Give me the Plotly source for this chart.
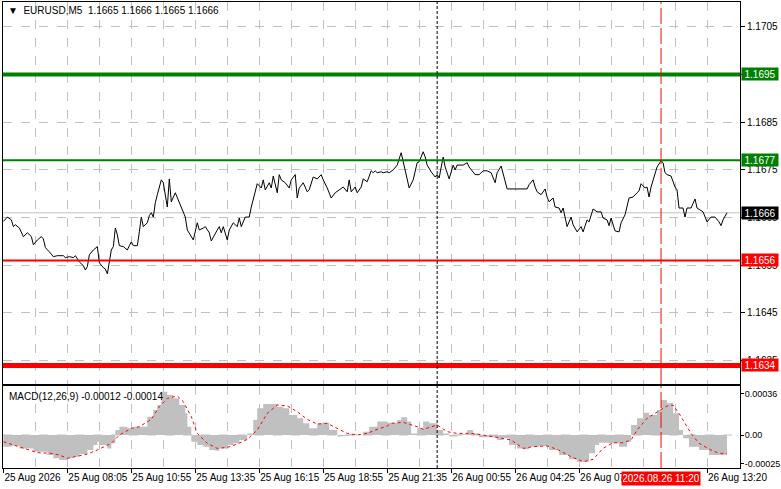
import plotly.graph_objects as go

# EURUSD M5 closes, x = bar number from the left edge of the chart
bars = [
	0, 2, 4, 5, 6, 8, 10, 11, 12, 14,
	15, 17, 19, 20, 21, 23, 25, 27, 30, 31,
	33, 35, 36, 38, 40, 41, 42, 43, 45, 47,
	48, 50, 51, 52, 54, 55, 56, 57, 58, 60,
	62, 63, 64, 65, 67, 68, 69, 70, 72, 73,
	74, 75, 76, 77, 79, 80, 82, 83, 84, 86,
	87, 89, 91, 92, 95, 97, 98, 100, 101, 103,
	104, 107, 108, 109, 110, 112, 113, 115, 117, 118,
	119, 121, 123, 124, 126, 127, 129, 130, 131, 133,
	134, 135, 137, 138, 139, 141, 143, 144, 146, 147,
	148, 150, 152, 153, 155, 157, 159, 160, 162, 164,
	166, 168, 170, 172, 173, 174, 176, 177, 179, 180,
	182, 184, 185, 186, 187, 189, 190, 192, 193, 195,
	197, 199, 200, 202, 203, 205, 207, 208, 210, 211,
	212, 214, 216, 217, 218, 220, 221, 223, 225, 226,
	227, 230, 232, 233, 236, 238, 240, 242, 244, 246,
	247, 249, 251, 252, 257, 262, 263, 265, 266, 267,
	269, 270, 271, 272, 273, 275, 276, 278, 279, 280,
	281, 282, 284, 285, 287, 289, 290, 292, 293, 295,
	297, 299, 300, 302, 303, 304, 306, 308, 309, 311,
	313, 315, 317, 318, 319, 321, 322, 323, 324, 326,
	327, 329, 330, 331, 332, 334, 336, 337, 338, 340,
	341, 342, 344, 346, 347, 350, 352, 354, 356, 358,
	359, 360, 362,
]
close = [
	1.16642, 1.16651, 1.16645, 1.16631, 1.16635, 1.16628, 1.16610, 1.16614, 1.16618, 1.16610,
	1.16593, 1.16603, 1.16610, 1.16605, 1.16587, 1.16578, 1.16568, 1.16570, 1.16570, 1.16566,
	1.16568, 1.16566, 1.16570, 1.16557, 1.16549, 1.16540, 1.16547, 1.16572, 1.16582, 1.16589,
	1.16555, 1.16545, 1.16542, 1.16532, 1.16582, 1.16589, 1.16628, 1.16614, 1.16591, 1.16589,
	1.16582, 1.16591, 1.16599, 1.16591, 1.16591, 1.16620, 1.16651, 1.16631, 1.16639, 1.16654,
	1.16660, 1.16651, 1.16681, 1.16698, 1.16729, 1.16723, 1.16672, 1.16731, 1.16683, 1.16702,
	1.16691, 1.16672, 1.16651, 1.16624, 1.16603, 1.16639, 1.16624, 1.16628, 1.16631, 1.16618,
	1.16601, 1.16624, 1.16631, 1.16618, 1.16631, 1.16603, 1.16624, 1.16639, 1.16631, 1.16649,
	1.16631, 1.16651, 1.16651, 1.16672, 1.16708, 1.16721, 1.16712, 1.16729, 1.16708, 1.16723,
	1.16712, 1.16737, 1.16702, 1.16740, 1.16729, 1.16723, 1.16712, 1.16729, 1.16740, 1.16691,
	1.16712, 1.16723, 1.16704, 1.16708, 1.16735, 1.16731, 1.16740, 1.16729, 1.16712, 1.16691,
	1.16702, 1.16708, 1.16714, 1.16704, 1.16729, 1.16704, 1.16714, 1.16702, 1.16714, 1.16731,
	1.16725, 1.16748, 1.16744, 1.16748, 1.16744, 1.16746, 1.16744, 1.16746, 1.16744, 1.16750,
	1.16760, 1.16786, 1.16767, 1.16735, 1.16712, 1.16729, 1.16765, 1.16767, 1.16788, 1.16777,
	1.16760, 1.16746, 1.16735, 1.16740, 1.16733, 1.16777, 1.16756, 1.16731, 1.16760, 1.16750,
	1.16760, 1.16760, 1.16765, 1.16756, 1.16740, 1.16740, 1.16748, 1.16748, 1.16744, 1.16723,
	1.16744, 1.16758, 1.16729, 1.16710, 1.16710, 1.16710, 1.16719, 1.16729, 1.16714, 1.16704,
	1.16698, 1.16704, 1.16710, 1.16693, 1.16683, 1.16691, 1.16672, 1.16670, 1.16660, 1.16670,
	1.16651, 1.16631, 1.16651, 1.16635, 1.16620, 1.16631, 1.16620, 1.16645, 1.16641, 1.16668,
	1.16662, 1.16662, 1.16649, 1.16645, 1.16633, 1.16649, 1.16622, 1.16620, 1.16639, 1.16656,
	1.16691, 1.16693, 1.16702, 1.16706, 1.16721, 1.16712, 1.16714, 1.16693, 1.16714, 1.16740,
	1.16756, 1.16769, 1.16765, 1.16744, 1.16740, 1.16737, 1.16714, 1.16708, 1.16670, 1.16670,
	1.16651, 1.16670, 1.16670, 1.16689, 1.16670, 1.16662, 1.16641, 1.16651, 1.16651, 1.16641,
	1.16633, 1.16645, 1.16660,
]

# MACD(12,26,9) main line (grey histogram)
macd_bars = [
	0, 4, 8, 15, 22, 25, 28, 32, 35, 38,
	42, 45, 47, 48, 52, 54, 56, 58, 62, 65,
	68, 72, 75, 77, 79, 82, 85, 88, 91, 92,
	94, 97, 100, 103, 106, 108, 112, 115, 118, 122,
	125, 127, 130, 133, 137, 140, 143, 147, 150, 153,
	157, 160, 163, 167, 170, 173, 177, 180, 183, 187,
	192, 194, 197, 199, 202, 204, 207, 210, 213, 217,
	220, 223, 227, 232, 235, 238, 243, 247, 250, 253,
	257, 260, 263, 268, 273, 278, 283, 287, 290, 293,
	296, 298, 303, 308, 312, 314, 317, 320, 323, 327,
	329, 332, 335, 338, 340, 343, 348, 353, 358, 362,
]
macd_main = [
	-0.000101, -0.000093, -0.000116, -0.000145, -0.000174, -0.000202, -0.000217, -0.000202, -0.000188, -0.000165,
	-0.000130, -0.000087, -0.000058, -0.000087, -0.000116, -0.000072, 0.000043, 0.000072, 0.000058, 0.000072,
	0.000072, 0.000159, 0.000217, 0.000260, 0.000376, 0.000347, 0.000318, 0.000260, 0.000188, 0.000072,
	-0.000058, -0.000087, -0.000101, -0.000130, -0.000136, -0.000116, -0.000087, -0.000072, -0.000043, 0.000014,
	0.000130, 0.000231, 0.000269, 0.000269, 0.000246, 0.000231, 0.000173, 0.000145, 0.000101, 0.000058,
	0.000101, 0.000107, 0.000043, -0.000014, -0.000009, 0.000009, 0.000000, 0.000029, 0.000072, 0.000116,
	0.000107, 0.000107, 0.000130, 0.000153, 0.000116, 0.000014, 0.000058, 0.000116, 0.000101, 0.000043,
	0.000014, -0.000014, 0.000006, 0.000043, 0.000014, -0.000020, -0.000020, -0.000043, -0.000029, -0.000087,
	-0.000116, -0.000124, -0.000101, -0.000095, -0.000130, -0.000174, -0.000211, -0.000231, -0.000231, -0.000159,
	-0.000087, -0.000067, -0.000072, -0.000101, -0.000058, 0.000087, 0.000145, 0.000194, 0.000173, 0.000217,
	0.000304, 0.000275, 0.000188, 0.000043, -0.000029, -0.000101, -0.000130, -0.000174, -0.000174, -0.000145,
]

# MACD signal line (red dotted)
signal_bars = [
	0, 5, 12, 17, 24, 28, 32, 37, 42, 47,
	54, 58, 64, 68, 74, 78, 82, 87, 90, 94,
	97, 102, 107, 112, 117, 122, 127, 132, 137, 142,
	147, 152, 157, 162, 167, 172, 177, 182, 187, 192,
	194, 200, 207, 210, 217, 222, 227, 234, 240, 247,
	254, 260, 265, 272, 277, 284, 290, 295, 300, 305,
	310, 314, 317, 322, 327, 332, 335, 338, 344, 348,
	354, 358, 362,
]
macd_signal = [
	-0.000058, -0.000087, -0.000124, -0.000153, -0.000159, -0.000174, -0.000202, -0.000182, -0.000165, -0.000130,
	-0.000072, 0.000000, 0.000058, 0.000072, 0.000136, 0.000246, 0.000318, 0.000338, 0.000289, 0.000159,
	0.000014, -0.000072, -0.000116, -0.000107, -0.000078, -0.000038, 0.000043, 0.000188, 0.000260, 0.000252,
	0.000202, 0.000136, 0.000095, 0.000101, 0.000058, 0.000014, 0.000000, 0.000014, 0.000049, 0.000078,
	0.000101, 0.000110, 0.000072, 0.000049, 0.000087, 0.000029, 0.000014, 0.000014, 0.000000, -0.000020,
	-0.000043, -0.000116, -0.000101, -0.000095, -0.000124, -0.000188, -0.000231, -0.000211, -0.000116, -0.000067,
	-0.000067, -0.000043, 0.000043, 0.000145, 0.000202, 0.000252, 0.000260, 0.000188, 0.000014, -0.000072,
	-0.000130, -0.000159, -0.000159,
]

price_ticks = [1.1635, 1.1645, 1.1655, 1.1665, 1.1675, 1.1685, 1.1695, 1.1705]
macd_ticks = [0.00036, 0.0, -0.00025]
macd_tick_text = ["0.00036", "0.00", "-0.00025"]

time_tick_bars = [0, 32, 64, 96, 128, 160, 192, 224, 256, 288, 352]
time_tick_text = [
	"25 Aug 2026", "25 Aug 08:05", "25 Aug 10:55", "25 Aug 13:35", "25 Aug 16:15",
	"25 Aug 18:55", "25 Aug 21:35", "26 Aug 00:55", "26 Aug 04:25", "26 Aug 07:55",
	"26 Aug 13:20",
]

levels = [1.1695, 1.1677, 1.1656, 1.1634]
level_colors = ["#008000", "#008000", "#FF0000", "#FF0000"]
level_widths = [4, 2, 2, 5]
last_price = 1.1666

day_sep_bar = 217
cross_bar = 329
cross_time = "2026.08.26 11:20"

FONT = "Liberation Sans"
GRID = "#C0C0C0"


def price_tag(fig, value, color):
	fig.add_annotation(xref="paper", x=1, xanchor="left", xshift=1, yref="y", y=value,
		text=f"{value:.4f}", showarrow=False, bgcolor=color, borderpad=1,
		width=34, height=10, align="center",
		font=dict(family=FONT, size=10, color="white"))


def main():
	fig = go.Figure()

	fig.add_trace(go.Scatter(
		x=bars, y=close, mode="lines",
		line=dict(color="black", width=1),
		xaxis="x", yaxis="y"))

	fig.add_trace(go.Scatter(
		x=macd_bars, y=macd_main, mode="lines",
		line=dict(color=GRID, width=0, shape="hv"),
		fill="tozeroy", fillcolor=GRID,
		xaxis="x2", yaxis="y2"))

	fig.add_trace(go.Scatter(
		x=signal_bars, y=macd_signal, mode="lines",
		line=dict(color="#FF0000", width=1, dash="dot"),
		xaxis="x2", yaxis="y2"))

	# current price line and zero level
	fig.add_shape(type="line", xref="x domain", x0=0, x1=1, yref="y", y0=last_price, y1=last_price,
		line=dict(color=GRID, width=1), layer="below")
	fig.add_shape(type="line", xref="x2 domain", x0=0, x1=1, yref="y2", y0=0, y1=0,
		line=dict(color=GRID, width=1, dash="dash"), layer="below")

	# support / resistance levels
	for lvl, col, w in zip(levels, level_colors, level_widths):
		fig.add_shape(type="line", xref="x domain", x0=0, x1=1, yref="y", y0=lvl, y1=lvl,
			line=dict(color=col, width=w))
		price_tag(fig, lvl, col)
	price_tag(fig, last_price, "black")

	# vertical separators, both panels
	for yref in ["y domain", "y2 domain"]:
		fig.add_shape(type="line", xref="x", x0=day_sep_bar, x1=day_sep_bar, yref=yref, y0=0, y1=1,
			line=dict(color="black", width=1, dash="3px,2px"))
		fig.add_shape(type="line", xref="x", x0=cross_bar, x1=cross_bar, yref=yref, y0=0, y1=1,
			line=dict(color="#FF0000", width=1, dash="16px,4px"))

	fig.add_annotation(xref="paper", x=0, xanchor="left", xshift=3, yref="paper", y=1, yanchor="top",
		yshift=-1, text="\u25BC  EURUSD,M5  1.1665 1.1666 1.1665 1.1666", showarrow=False,
		font=dict(family=FONT, size=10, color="black"))
	fig.add_annotation(xref="paper", x=0, xanchor="left", xshift=4, yref="y2 domain", y=1, yanchor="top",
		yshift=-3, text="MACD(12,26,9) -0.00012 -0.00014", showarrow=False,
		font=dict(family=FONT, size=10, color="black"))
	fig.add_annotation(xref="x2", x=cross_bar, xanchor="center", yref="paper", y=0, yanchor="top",
		yshift=-3, text=cross_time, showarrow=False, bgcolor="#FF0000", borderpad=1,
		width=76, height=11, font=dict(family=FONT, size=10, color="white"))

	xgrid = dict(showgrid=True, gridcolor=GRID, griddash="dash", gridwidth=1,
		minor=dict(tickmode="linear", tick0=0, dtick=16, showgrid=True, gridcolor=GRID,
			griddash="dash", gridwidth=1))
	frame = dict(showline=True, mirror=True, linecolor="black", linewidth=1, zeroline=False)

	fig.update_layout(
		width=781, height=489,
		margin=dict(l=3, r=41, t=2, b=21, autoexpand=False),
		paper_bgcolor="white", plot_bgcolor="white",
		showlegend=False, hovermode=False,
		font=dict(family=FONT, size=10, color="black"),
		xaxis=dict(domain=[0, 1], anchor="y", range=[-0.2, 368.5], tickmode="array",
			tickvals=time_tick_bars, showticklabels=False, ticks="", **xgrid, **frame),
		xaxis2=dict(domain=[0, 1], anchor="y2", matches="x", tickmode="array",
			tickvals=time_tick_bars, ticktext=time_tick_text, ticks="outside", ticklen=4,
			tickcolor="black", tickangle=0, ticklabelposition="outside right", **xgrid, **frame),
		yaxis=dict(domain=[0.1803, 1], anchor="x", side="right", range=[1.16301, 1.17102],
			tickmode="array", tickvals=price_ticks, ticktext=[f"{p:.4f}" for p in price_ticks],
			ticks="outside", ticklen=4, tickcolor="black",
			showgrid=True, gridcolor=GRID, griddash="dash", **frame),
		yaxis2=dict(domain=[0, 0.176], anchor="x2", side="right", range=[-0.000286, 0.000425],
			tickmode="array", tickvals=macd_ticks, ticktext=macd_tick_text,
			ticks="outside", ticklen=3, tickcolor="black", ticklabelstandoff=-1,
			tickfont=dict(family=FONT, size=9, color="black"), showgrid=False, **frame),
	)

	# the page's default body margin would push the chart 8px off
	fig.write_html("out.html", config={"displayModeBar": False},
		post_script="document.body.style.margin='0';")


if __name__ == "__main__":
	main()
